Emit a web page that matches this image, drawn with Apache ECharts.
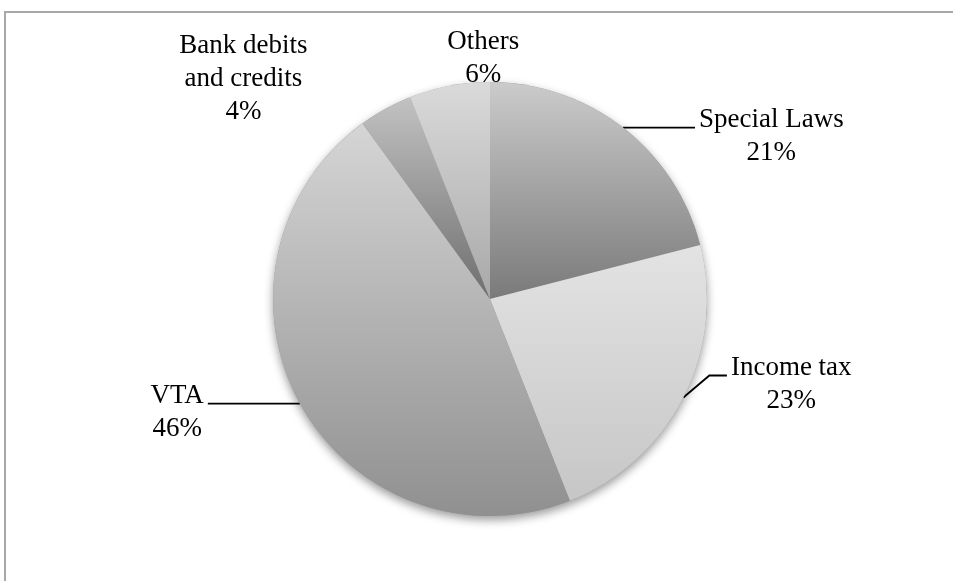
<!DOCTYPE html>
<html><head><meta charset="utf-8">
<script src="https://cdn.jsdelivr.net/npm/echarts@6/dist/echarts.min.js"></script>
<style>
html,body{margin:0;padding:0;background:#fff;overflow:hidden;}
#frame{position:absolute;left:4px;top:11px;width:1200px;height:800px;border-top:2px solid #a8a8a8;border-left:2px solid #a8a8a8;}
#chart{position:absolute;left:0;top:0;width:953px;height:581px;}
</style></head><body>
<div id="frame"></div><div id="chart"></div>
<script>
// ---- data ----
const categories = ['Special Laws', 'Income tax', 'VTA', 'Bank debits\nand credits', 'Others'];
const shares = [21, 23, 46, 4, 6];

// ---- styles ----
const gradTop = ['#cbcbcb', '#e3e3e3', '#d5d5d5', '#c2c2c2', '#dadada'];
const gradBottom = ['#7a7a7a', '#c6c6c6', '#909090', '#6e6e6e', '#a8a8a8'];
const lineLen1 = [0, 4, 0, 0, 0];
const lineLen2 = [72, 40, 92, 20, 20];
const FONT = '"Liberation Serif", "DejaVu Serif", serif';

const chart = echarts.init(document.getElementById('chart'), null, {renderer: 'canvas'});

const total = shares.reduce((s, v) => s + v, 0);

const pieData = categories.map((name, i) => ({
  name: name,
  value: shares[i],
  itemStyle: {
    color: new echarts.graphic.LinearGradient(0, 0, 0, 1, [
      {offset: 0, color: gradTop[i]},
      {offset: 1, color: gradBottom[i]}
    ])
  },
  labelLine: {length: lineLen1[i], length2: lineLen2[i]}
}));

function placeLabel(p) {
  const pts = p.labelLinePoints;
  if (!pts) return {};
  const a = pts[0], e = pts[2];
  const i = p.dataIndex;
  if (i === 0 || i === 2) {
    return {y: e[1] + 9, verticalAlign: 'middle', labelLinePoints: pts};
  }
  if (i === 1) {
    const ly = a[1] - 22;
    return {y: ly + 9, verticalAlign: 'middle',
      labelLinePoints: [[a[0], a[1]], [a[0] + 26, ly], [e[0], ly]]};
  }
  if (i === 3) {
    return {x: a[0] - 142, y: a[1] - 30, align: 'center', verticalAlign: 'middle',
      labelLinePoints: [[a[0], a[1]], [a[0], a[1]], [a[0], a[1]]]};
  }
  if (i === 4) {
    return {x: a[0] + 34, y: a[1] - 27, align: 'center', verticalAlign: 'middle',
      labelLinePoints: [[a[0], a[1]], [a[0], a[1]], [a[0], a[1]]]};
  }
  return {};
}

chart.setOption({
  animation: false,
  backgroundColor: 'transparent',
  series: [
    {
      type: 'pie',
      name: 'shadow',
      z: 1,
      silent: true,
      center: [490, 299],
      radius: 217,
      label: {show: false},
      labelLine: {show: false},
      itemStyle: {color: '#9a9a9a', shadowColor: 'rgba(0,0,0,0.4)', shadowBlur: 10, shadowOffsetY: 4},
      emphasis: {disabled: true},
      data: [{name: 'total', value: total}]
    },
    {
      type: 'pie',
      z: 2,
      center: [490, 299],
      radius: 217,
      startAngle: 90,
      clockwise: true,
      avoidLabelOverlap: false,
      emphasis: {disabled: true},
      itemStyle: {borderWidth: 0},
      label: {
        show: true,
        position: 'outside',
        alignTo: 'none',
        distanceToLabelLine: 4,
        formatter: function (p) {
          return p.name.split('\n').map(s => '{t|' + s + '}').join('\n') + '\n{t|' + p.value + '%}';
        },
        rich: {
          t: {align: 'center', fontFamily: FONT, fontSize: 27, lineHeight: 33, color: '#000'}
        }
      },
      labelLine: {show: true, smooth: false, lineStyle: {color: '#000', width: 1.8}},
      labelLayout: placeLabel,
      data: pieData
    }
  ]
});
</script>
</body></html>
